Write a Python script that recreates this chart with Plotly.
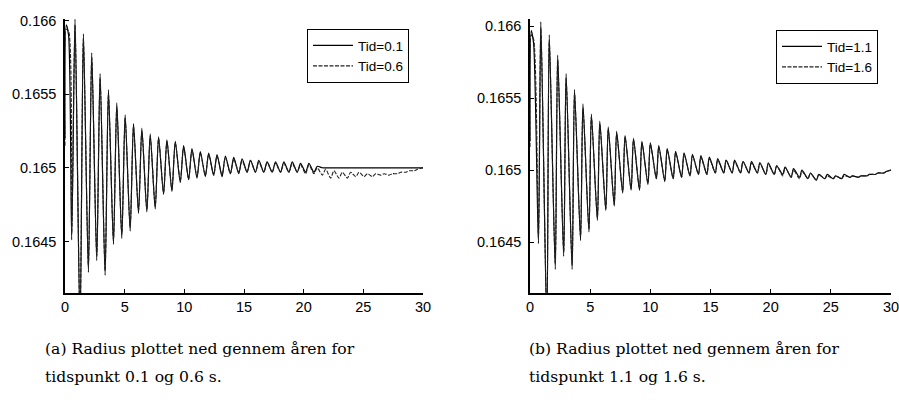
import plotly.graph_objects as go

# ---------------- data ----------------
# left panel: extrema times (s) shared by both series
t_left = [0.0, 0.1, 0.3, 0.56, 0.84, 1.26, 1.54, 1.96, 2.24, 2.66, 2.94, 3.36, 3.64,
          4.06, 4.34, 4.76, 5.04, 5.46, 5.74, 6.16, 6.44, 6.86, 7.14, 7.56, 7.84,
          8.26, 8.54, 8.96, 9.24, 9.66, 9.94, 10.36, 10.64, 11.06, 11.34, 11.76, 12.04,
          12.46, 12.74, 13.16, 13.44, 13.86, 14.14, 14.56, 14.84, 15.26, 15.54, 15.96,
          16.24, 16.66, 16.94, 17.36, 17.64, 18.06, 18.34, 18.76, 19.04, 19.46, 19.74,
          20.16, 20.44, 20.86, 21.14, 21.56, 21.84, 22.26, 22.54, 22.96, 23.24, 23.66,
          23.94, 24.36, 24.64, 25.06, 25.34, 25.76, 26.04, 26.46, 26.74, 27.16, 27.44,
          27.86, 28.14, 28.56, 28.84, 29.26, 29.54, 30.0]

r_tid01 = [0.16520, 0.16597, 0.16590,
           0.16451, 0.16601, 0.16390, 0.16591, 0.16429, 0.16578, 0.16437, 0.16564,
           0.16427, 0.16553, 0.16448, 0.16544, 0.16452, 0.16536, 0.16457, 0.16530,
           0.16469, 0.16527, 0.16470, 0.16523, 0.16472, 0.16521, 0.16482, 0.16519,
           0.16484, 0.16518, 0.16490, 0.16515, 0.16492, 0.16513, 0.16493, 0.16511,
           0.16494, 0.16510, 0.16495, 0.16509, 0.16494, 0.16508, 0.16496, 0.16507,
           0.16496, 0.16506, 0.16497, 0.16505, 0.16497, 0.16505, 0.16497, 0.16504,
           0.16497, 0.16504, 0.16497, 0.16504, 0.16497, 0.16504, 0.16497, 0.16503,
           0.16497, 0.16503, 0.16497, 0.16501,
           0.16500, 0.16500, 0.16500, 0.16500, 0.16500, 0.16500, 0.16500, 0.16500,
           0.16500, 0.16500, 0.16500, 0.16500, 0.16500, 0.16500, 0.16500, 0.16500,
           0.16500, 0.16500, 0.16500, 0.16500, 0.16500, 0.16500, 0.16500, 0.16500,
           0.16500]

r_tid06 = [0.16515, 0.16594, 0.16593,
           0.16455, 0.16597, 0.16395, 0.16588, 0.16433, 0.16575, 0.16440, 0.16561,
           0.16430, 0.16550, 0.16451, 0.16541, 0.16455, 0.16534, 0.16460, 0.16528,
           0.16471, 0.16525, 0.16472, 0.16521, 0.16474, 0.16520, 0.16483, 0.16518,
           0.16485, 0.16517, 0.16491, 0.16514, 0.16492, 0.16512, 0.16494, 0.16510,
           0.16495, 0.16509, 0.16495, 0.16508, 0.16495, 0.16507, 0.16496, 0.16506,
           0.16497, 0.16505, 0.16497, 0.16505, 0.16497, 0.16504, 0.16497, 0.16504,
           0.16497, 0.16503, 0.16497, 0.16503, 0.16497, 0.16503, 0.16497, 0.16502,
           0.16496, 0.16502, 0.16496, 0.16500,
           0.16495, 0.16499, 0.16493, 0.16498, 0.16493, 0.16497, 0.16493, 0.16497,
           0.16494, 0.16497, 0.16494, 0.16496, 0.16494, 0.16496, 0.16495, 0.16496,
           0.16495, 0.16496, 0.16496, 0.16497, 0.16497, 0.16498, 0.16498, 0.16499,
           0.16500]

# right panel
t_right = [0.0, 0.1, 0.3, 0.7, 0.9, 1.4, 1.6, 2.1, 2.3, 2.8, 3.0, 3.5, 3.7, 4.2, 4.4,
           4.9, 5.1, 5.6, 5.8, 6.3, 6.5, 7.0, 7.2, 7.7, 7.9, 8.4, 8.6, 9.1, 9.3, 9.8,
           10.0, 10.5, 10.7, 11.2, 11.4, 11.9, 12.1, 12.6, 12.8, 13.3, 13.5, 14.0,
           14.2, 14.7, 14.9, 15.4, 15.6, 16.1, 16.3, 16.8, 17.0, 17.5, 17.7, 18.2,
           18.4, 18.9, 19.1, 19.6, 19.8, 20.3, 20.5, 21.0, 21.2, 21.7, 21.9, 22.4,
           22.6, 23.1, 23.3, 23.8, 24.0, 24.5, 24.7, 25.2, 25.4, 25.9, 26.1, 26.6,
           26.8, 27.3, 27.5, 28.0, 28.2, 28.7, 28.9, 29.4, 29.6, 30.0]

r_tid11 = [0.16520, 0.16597, 0.16588,
           0.16449, 0.16603, 0.16390, 0.16594, 0.16431, 0.16580, 0.16440, 0.16567,
           0.16431, 0.16556, 0.16451, 0.16546, 0.16457, 0.16539, 0.16465, 0.16534,
           0.16472, 0.16530, 0.16475, 0.16527, 0.16484, 0.16524, 0.16486, 0.16522,
           0.16486, 0.16520, 0.16490, 0.16519, 0.16494, 0.16517, 0.16492, 0.16515,
           0.16494, 0.16513, 0.16495, 0.16512, 0.16496, 0.16511, 0.16497, 0.16510,
           0.16497, 0.16509, 0.16498, 0.16508, 0.16498, 0.16507, 0.16498, 0.16507,
           0.16498, 0.16506, 0.16498, 0.16506, 0.16498, 0.16505, 0.16497, 0.16505,
           0.16497, 0.16503, 0.16497, 0.16502, 0.16495, 0.16501, 0.16495, 0.16500,
           0.16494, 0.16498, 0.16493, 0.16497, 0.16494, 0.16497, 0.16494, 0.16496,
           0.16494, 0.16497, 0.16495, 0.16496, 0.16495, 0.16496, 0.16496, 0.16497,
           0.16497, 0.16498, 0.16498, 0.16499, 0.16500]

r_tid16 = [0.16516, 0.16594, 0.16591,
           0.16453, 0.16599, 0.16395, 0.16590, 0.16435, 0.16577, 0.16443, 0.16564,
           0.16434, 0.16553, 0.16454, 0.16543, 0.16459, 0.16537, 0.16467, 0.16532,
           0.16473, 0.16528, 0.16476, 0.16525, 0.16485, 0.16523, 0.16487, 0.16521,
           0.16487, 0.16519, 0.16491, 0.16518, 0.16494, 0.16516, 0.16493, 0.16514,
           0.16494, 0.16512, 0.16495, 0.16511, 0.16496, 0.16510, 0.16497, 0.16509,
           0.16497, 0.16508, 0.16498, 0.16507, 0.16498, 0.16507, 0.16498, 0.16506,
           0.16498, 0.16506, 0.16498, 0.16505, 0.16498, 0.16505, 0.16497, 0.16504,
           0.16497, 0.16503, 0.16496, 0.16502, 0.16495, 0.16500, 0.16494, 0.16499,
           0.16494, 0.16498, 0.16493, 0.16497, 0.16494, 0.16496, 0.16494, 0.16496,
           0.16494, 0.16496, 0.16495, 0.16496, 0.16495, 0.16496, 0.16496, 0.16497,
           0.16497, 0.16498, 0.16498, 0.16499, 0.16500]

x_ticks = [0, 5, 10, 15, 20, 25, 30]
y_ticks = [0.1645, 0.165, 0.1655, 0.166]
y_tick_text = ["0.1645", "0.165", "0.1655", "0.166"]

legend_left = ["Tid=0.1", "Tid=0.6"]
legend_right = ["Tid=1.1", "Tid=1.6"]
caption_a = ["(a) Radius plottet ned gennem åren for", "tidspunkt 0.1 og 0.6 s."]
caption_b = ["(b) Radius plottet ned gennem åren for", "tidspunkt 1.1 og 1.6 s."]

# ---------------- figure ----------------
W, H = 899, 408
fig = go.Figure()

line_solid = dict(color="black", width=1.2, shape="spline", smoothing=0.7)
line_dash = dict(color="#222", width=1.1, dash="4px,1.5px", shape="spline", smoothing=0.7)

fig.add_trace(go.Scatter(x=t_left, y=r_tid01, mode="lines", name=legend_left[0],
                         line=line_solid, xaxis="x", yaxis="y", legend="legend"))
fig.add_trace(go.Scatter(x=t_left, y=r_tid06, mode="lines", name=legend_left[1],
                         line=line_dash, xaxis="x", yaxis="y", legend="legend"))
fig.add_trace(go.Scatter(x=t_right, y=r_tid11, mode="lines", name=legend_right[0],
                         line=line_solid, xaxis="x2", yaxis="y2", legend="legend2"))
fig.add_trace(go.Scatter(x=t_right, y=r_tid16, mode="lines", name=legend_right[1],
                         line=line_dash, xaxis="x2", yaxis="y2", legend="legend2"))

tickfont = dict(family="Liberation Sans, Arial, sans-serif", size=14.5, color="black")

def xax(domain, anchor):
    return dict(domain=domain, anchor=anchor, range=[0, 30], tickvals=x_ticks,
                showline=True, linecolor="black", linewidth=1.5, ticks="inside",
                ticklen=4, tickcolor="black", showgrid=False, zeroline=False,
                tickfont=tickfont, mirror=False, automargin=False,
                ticklabeloverflow="allow")

def yax(domain, anchor, rng):
    return dict(domain=domain, anchor=anchor, range=rng, tickvals=y_ticks,
                ticktext=y_tick_text, showline=True, linecolor="black", linewidth=1.5,
                ticks="inside", ticklen=4, tickcolor="black", showgrid=False,
                zeroline=False, tickfont=tickfont, ticklabelstandoff=4,
                automargin=False, ticklabeloverflow="allow")

ydom = [1 - 293 / H, 1 - 19 / H]
legfont = dict(family="Liberation Sans, Arial, sans-serif", size=13.5, color="black")
fig.update_layout(
    width=W, height=H,
    margin=dict(l=0, r=0, t=0, b=0, autoexpand=False),
    paper_bgcolor="white", plot_bgcolor="white",
    xaxis=xax([65 / W, 423 / W], "y"),
    yaxis=yax(ydom, "x", [0.16415, 0.16601]),
    xaxis2=xax([530 / W, 891 / W], "y2"),
    yaxis2=yax(ydom, "x2", [0.164146, 0.16605]),
    legend=dict(x=409 / W, y=1 - 29 / H, xanchor="right", yanchor="top",
                bordercolor="black", borderwidth=1, bgcolor="white",
                font=legfont, tracegroupgap=0, itemwidth=40),
    legend2=dict(x=878 / W, y=1 - 30 / H, xanchor="right", yanchor="top",
                 bordercolor="black", borderwidth=1, bgcolor="white",
                 font=legfont, tracegroupgap=0, itemwidth=40),
    showlegend=True,
)

capfont = dict(family="DejaVu Serif, Liberation Serif, serif", size=15.6, color="black")
for x0, lines in ((43, caption_a), (527, caption_b)):
    for y0, txt in zip((349, 377), lines):
        fig.add_annotation(text=txt, x=x0 / W, y=1 - y0 / H, xref="paper", yref="paper",
                           xanchor="left", yanchor="middle", showarrow=False,
                           align="left", font=capfont)

fig.write_html("out.html", config={"displayModeBar": False},
               post_script="document.body.style.margin='0';document.body.style.overflow='hidden';")
